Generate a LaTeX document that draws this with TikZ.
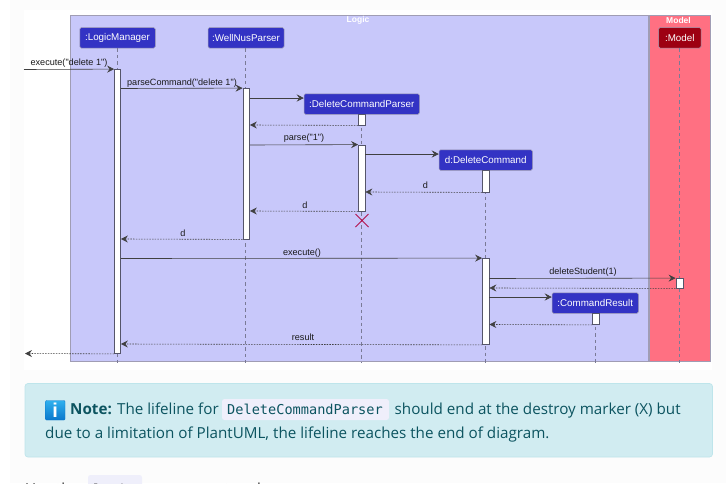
\documentclass[tikz,border=0pt]{standalone}
\usepackage{fontspec}
\setmainfont{Open Sans}
\newfontfamily\seqfont{Liberation Sans}
\setmonofont{DejaVu Sans Mono}
\usetikzlibrary{arrows.meta,calc}
\definecolor{pagebg}{HTML}{FCFCFC}
\definecolor{logicbg}{HTML}{C8C8FA}
\definecolor{modelbg}{HTML}{FF7082}
\definecolor{actorblue}{HTML}{3333C4}
\definecolor{actorred}{HTML}{9D0012}
\definecolor{framegray}{HTML}{A09DB4}
\definecolor{linegray}{HTML}{55556A}
\definecolor{lifegray}{HTML}{7A7A96}
\definecolor{notebg}{HTML}{D1ECF1}
\definecolor{noteborder}{HTML}{BEE5EB}
\definecolor{notetext}{HTML}{0C5460}
\definecolor{codebg}{HTML}{EFEFFB}
\definecolor{xred}{HTML}{B3124E}
\definecolor{icontop}{HTML}{2FB0EE}
\definecolor{iconbot}{HTML}{0B78CC}
\tikzset{
  x=1pt,y=-1pt,
  framebox/.style={draw=framegray,line width=.7pt},
  actorbox/.style={rounded corners=1.5pt,draw=framegray,line width=.5pt,text=white,font=\seqfont\fontsize{9.8}{12}\selectfont,inner sep=0pt,anchor=center},
  life/.style={draw=lifegray,line width=.6pt,dash pattern=on 3.5pt off 3pt},
  activation/.style={draw=linegray,fill=white,line width=.8pt,inner sep=0pt},
  tip/.style={-{Stealth[length=7pt,width=7pt,inset=2.5pt]}},
  call/.style={tip,draw=black!75,line width=.6pt},
  reply/.style={tip,draw=black!75,line width=.6pt,dash pattern=on 1.5pt off 1.2pt},
  msg/.style={font=\seqfont\fontsize{9.1}{10}\selectfont,text=black!90,inner sep=0pt,anchor=center},
  notetxt/.style={anchor=base west,inner sep=0pt,text=notetext,font=\fontsize{15.2}{18}\selectfont},
}
\begin{document}
\begin{tikzpicture}
\useasboundingbox (0,0) rectangle (726,483);
\fill[white] (0,0) rectangle (726,483);
\fill[pagebg] (10,0) rectangle (726,483);
\fill[white] (24,10) rectangle (712,370);
% frames
\path[framebox,fill=logicbg] (70.5,15.5) rectangle (648,361.5);
\path[draw=framegray,line width=.7pt,fill=modelbg] (649,15.5) rectangle (710,361.5);
\node[font=\seqfont\bfseries\fontsize{8.5}{10}\selectfont,text=white,inner sep=0pt] (logiclabel) at (358,20.5) {Logic};
\node[font=\seqfont\bfseries\fontsize{8.5}{10}\selectfont,text=white,inner sep=0pt] (modellabel) at (678.5,20.5) {Model};
% coordinates for lifeline ends
\coordinate (lmEnd) at (117.5,363);
\coordinate (wnEnd) at (245.5,363);
\coordinate (dpEnd) at (361.5,363);
\coordinate (dcEnd) at (485.5,363);
\coordinate (crEnd) at (595,363);
\coordinate (mdEnd) at (679.5,363);
% actors
\node[actorbox,fill=actorblue,minimum width=75.5pt,minimum height=20.5pt] (lm) at (117.5,37.75) {:LogicManager};
\node[actorbox,fill=actorblue,minimum width=76pt,minimum height=20.5pt] (wn) at (246,37.75) {:WellNusParser};
\node[actorbox,fill=actorblue,minimum width=115.5pt,minimum height=20.5pt] (dp) at (361.75,104) {:DeleteCommandParser};
\node[actorbox,fill=actorblue,minimum width=93.5pt,minimum height=20.5pt] (dc) at (485.75,160) {d:DeleteCommand};
\node[actorbox,fill=actorred,minimum width=42.5pt,minimum height=20.5pt] (md) at (679.75,37.75) {:Model};
\node[actorbox,fill=actorblue,minimum width=86.5pt,minimum height=20.5pt] (cr) at (595.25,303) {:CommandResult};
% lifelines
\draw[life] (lm.south -| lmEnd) -- (lmEnd);
\draw[life] (wn.south -| wnEnd) -- (wnEnd);
\draw[life] (dp.south -| dpEnd) -- (dpEnd);
\draw[life] (dc.south -| dcEnd) -- (dcEnd);
\draw[life] (cr.south -| crEnd) -- (crEnd);
\draw[life] (md.south -| mdEnd) -- (mdEnd);
% activations
\node[activation,minimum width=6pt,minimum height=284pt] (aLm) at (117.5,211.5) {};
\node[activation,minimum width=6.5pt,minimum height=150.5pt] (aWn) at (246.25,163.75) {};
\node[activation,minimum width=6.5pt,minimum height=11pt] (aDpA) at (361.75,119.5) {};
\node[activation,minimum width=6.5pt,minimum height=66pt] (aDpB) at (361.75,178) {};
\node[activation,minimum width=6.5pt,minimum height=22pt] (aDcA) at (485.75,181) {};
\node[activation,minimum width=6.5pt,minimum height=86pt] (aDcB) at (485.75,301.5) {};
\node[activation,minimum width=7pt,minimum height=9.5pt] (aMd) at (679.5,283.25) {};
\node[activation,minimum width=6.5pt,minimum height=11.5pt] (aCr) at (595.75,318.75) {};
% free ends
\coordinate (inStart) at (24,69.5);
\coordinate (outEnd) at (25,353.5);
% messages
\draw[call] (inStart) -- (aLm.north west);
\node[msg] (m1) at (69,63) {execute("delete 1")};
\draw[call] (aLm.east |- 0,88.5) -- (aWn.north west);
\node[msg] (m2) at (182,83) {parseCommand("delete 1")};
\draw[call] (aWn.east |- 0,98) -- (dp.west |- 0,98);
\draw[reply] (aDpA.south west) -- (aWn.east |- 0,125);
\draw[call] (aWn.east |- 0,145) -- (aDpB.north west);
\node[msg] (m3) at (304,138) {parse("1")};
\draw[call] (aDpB.east |- 0,154) -- (dc.west |- 0,154);
\draw[reply] (aDcA.south west) -- (aDpB.east |- 0,192);
\node[msg] (m4) at (425.5,185) {d};
\draw[reply] (aDpB.south west) -- (aWn.east |- 0,211);
\node[msg] (m5) at (305,205) {d};
\draw[reply] (aWn.south west) -- (aLm.east |- 0,239);
\node[msg] (m6) at (183,233) {d};
\draw[xred,line width=1pt] (355.5,214) -- (368.5,227) (355.5,227) -- (368.5,214);
\draw[call] (aLm.east |- 0,258.5) -- (aDcB.north west);
\node[msg] (m7) at (302,253) {execute()};
\draw[call] (aDcB.east |- 0,278.5) -- (aMd.north west);
\node[msg] (m8) at (583,272.5) {deleteStudent(1)};
\draw[reply] (aMd.south west) -- (aDcB.east |- 0,288);
\draw[call] (aDcB.east |- 0,297) -- (cr.west |- 0,297);
\draw[reply] (aCr.south west) -- (aDcB.east |- 0,324.5);
\draw[reply] (aDcB.south west) -- (aLm.east |- 0,344);
\node[msg] (m9) at (303,337.5) {result};
\draw[reply] (aLm.south west) -- (outEnd);
% note
\path[fill=notebg,draw=noteborder,line width=.7pt,rounded corners=3pt] (25,383.5) rectangle (712.5,457);
\path[fill=codebg,rounded corners=2.5pt] (222,399) rectangle (389,420);
\path[rounded corners=1pt,top color=icontop,bottom color=iconbot,draw=iconbot,line width=.4pt] (45.5,400.5) rectangle (65,420);
\node[font=\seqfont\bfseries\fontsize{20}{20}\selectfont,text=white,inner sep=0pt] (icon) at (55.25,410.5) {i};
\node[notetxt] (n1) at (70,414) {\textbf{Note:} The lifeline for};
\node[anchor=base west,inner sep=0pt,text=notetext,font=\ttfamily\fontsize{13.6}{16}\selectfont] (n2) at (227,414) {DeleteCommandParser};
\node[notetxt] (n3) at (394.5,414) {should end at the destroy marker (X) but};
\node[notetxt] (n4) at (45,438) {due to a limitation of PlantUML, the lifeline reaches the end of diagram.};
% text cut off by the lower edge
\begin{scope}
\clip (0,470) rectangle (726,483);
\path[fill=codebg,rounded corners=2.5pt] (88,475) rectangle (142,500);
\node[anchor=base west,inner sep=0pt,text=black!80,font=\fontsize{15.2}{18}\selectfont] (u1) at (25,494) {Use the};
\node[anchor=base west,inner sep=0pt,text=black!80,font=\ttfamily\fontsize{13.6}{16}\selectfont] (u2) at (93,494) {logic};
\node[anchor=base west,inner sep=0pt,text=black!80,font=\fontsize{15.2}{18}\selectfont] (u3) at (148,494) {component and:};
\end{scope}
\end{tikzpicture}
\end{document}
